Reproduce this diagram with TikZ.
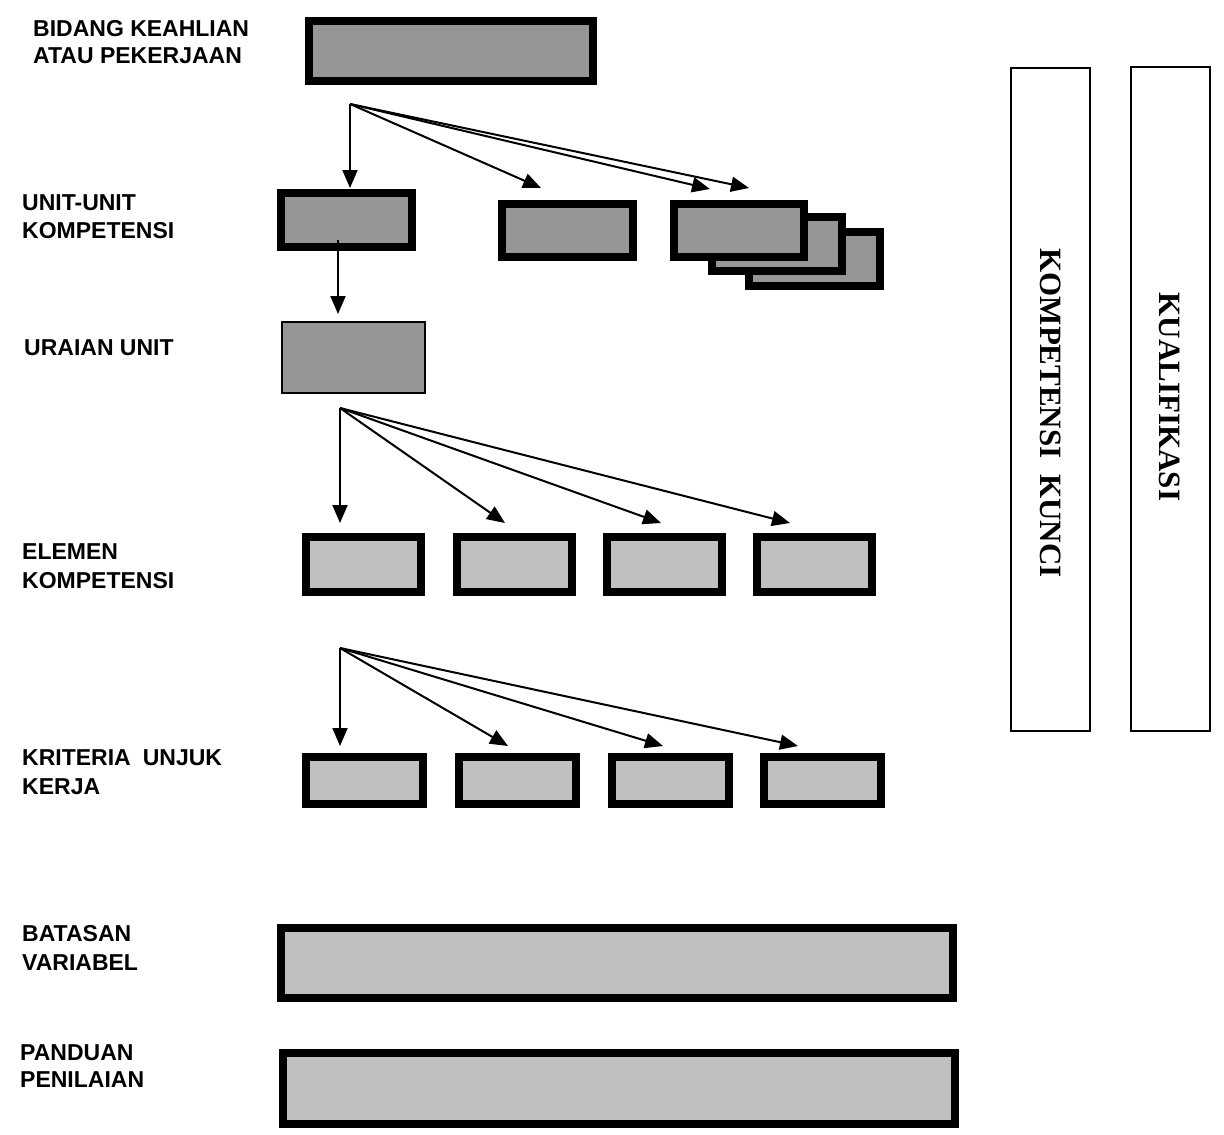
\documentclass[tikz,border=0pt]{standalone}
\usepackage{fontspec}
\setmainfont{Liberation Sans}
\newfontfamily\serifbold{Liberation Serif}
\usetikzlibrary{arrows.meta}
\definecolor{darkfill}{RGB}{150,150,150}
\definecolor{lightfill}{RGB}{192,192,192}
\begin{document}
\begin{tikzpicture}[x=1pt,y=-1pt,
  thickbox/.style={draw=black,line width=8pt,rectangle,inner sep=0pt},
  thinbox/.style={draw=black,line width=2pt,rectangle,inner sep=0pt},
  darkbox/.style={thickbox,fill=darkfill},
  lightbox/.style={thickbox,fill=lightfill},
  lbl/.style={anchor=base west,inner sep=0pt,font=\fontsize{23}{28}\selectfont\bfseries},
  vlbl/.style={rotate=-90,inner sep=0pt,font=\fontsize{31}{36}\selectfont\serifbold\bfseries},
  arr/.style={line width=2pt,-{Triangle[length=18pt,width=15pt]}}]
\useasboundingbox (0,0) rectangle (1224,1135);
\fill[white] (0,0) rectangle (1224,1135);

% left labels
\node[lbl] (l1a) at (33,36) {BIDANG KEAHLIAN};
\node[lbl] (l1b) at (33,63) {ATAU PEKERJAAN};
\node[lbl] (l2a) at (22,210) {UNIT-UNIT};
\node[lbl] (l2b) at (22,238) {KOMPETENSI};
\node[lbl] (l3a) at (24,355) {URAIAN UNIT};
\node[lbl] (l4a) at (22,559) {ELEMEN};
\node[lbl] (l4b) at (22,588) {KOMPETENSI};
\node[lbl] (l5a) at (22,765) {KRITERIA\hspace{12pt}UNJUK};
\node[lbl] (l5b) at (22,794) {KERJA};
\node[lbl] (l6a) at (22,941) {BATASAN};
\node[lbl] (l6b) at (22,970) {VARIABEL};
\node[lbl] (l7a) at (20,1060) {PANDUAN};
\node[lbl] (l7b) at (20,1087) {PENILAIAN};

% top box
\node[darkbox,minimum width=284pt,minimum height=60pt] (top) at (451,51) {};

% unit boxes
\node[darkbox,minimum width=131pt,minimum height=54pt] (u1) at (346.5,220) {};
\node[darkbox,minimum width=131pt,minimum height=53pt] (u2) at (567.5,230.5) {};
\node[darkbox,minimum width=131pt,minimum height=54pt] (u3c) at (814.5,259) {};
\node[darkbox,minimum width=130pt,minimum height=54pt] (u3b) at (777,244) {};
\node[darkbox,minimum width=130pt,minimum height=53pt] (u3a) at (739,230.5) {};

% uraian
\node[thinbox,fill=darkfill,minimum width=143pt,minimum height=71pt] (ur) at (353.5,357.5) {};

% elemen
\node[lightbox,minimum width=115pt,minimum height=55pt] (e1) at (363.5,564.5) {};
\node[lightbox,minimum width=115pt,minimum height=55pt] (e2) at (514.5,564.5) {};
\node[lightbox,minimum width=115pt,minimum height=55pt] (e3) at (664.5,564.5) {};
\node[lightbox,minimum width=115pt,minimum height=55pt] (e4) at (814.5,564.5) {};

% kriteria
\node[lightbox,minimum width=117pt,minimum height=47pt] (k1) at (364.5,780.5) {};
\node[lightbox,minimum width=117pt,minimum height=47pt] (k2) at (517.5,780.5) {};
\node[lightbox,minimum width=117pt,minimum height=47pt] (k3) at (670.5,780.5) {};
\node[lightbox,minimum width=117pt,minimum height=47pt] (k4) at (822.5,780.5) {};

% batasan, panduan
\node[lightbox,minimum width=672pt,minimum height=70pt] (bv) at (617,963) {};
\node[lightbox,minimum width=672pt,minimum height=71pt] (pp) at (619,1088.5) {};

% right tall boxes
\node[thinbox,minimum width=79pt,minimum height=663pt] (kk) at (1050.5,399.5) {};
\node[thinbox,minimum width=79pt,minimum height=664pt] (kq) at (1170.5,399) {};
\node[vlbl] (kkt) at (1051,413) {KOMPETENSI\ \ KUNCI};
\node[vlbl] (kqt) at (1170,397) {KUALIFIKASI};

% fan 1
\coordinate (f1) at (350,104);
\coordinate (f1a) at (350,188);
\coordinate (f1b) at (541,188);
\coordinate (f1c) at (710,189);
\coordinate (f1d) at (749,188);
\draw[arr] (f1) -- (f1a);
\draw[arr] (f1) -- (f1b);
\draw[arr] (f1) -- (f1c);
\draw[arr] (f1) -- (f1d);

% unit to uraian
\coordinate (d1) at (338,240);
\coordinate (d2) at (338,314);
\draw[arr] (d1) -- (d2);

% fan 2
\coordinate (f2) at (340,408);
\coordinate (f2a) at (340,523);
\coordinate (f2b) at (505,523);
\coordinate (f2c) at (661,523);
\coordinate (f2d) at (790,523);
\draw[arr] (f2) -- (f2a);
\draw[arr] (f2) -- (f2b);
\draw[arr] (f2) -- (f2c);
\draw[arr] (f2) -- (f2d);

% fan 3
\coordinate (f3) at (340,648);
\coordinate (f3a) at (340,746);
\coordinate (f3b) at (508,746);
\coordinate (f3c) at (663,746);
\coordinate (f3d) at (798,746);
\draw[arr] (f3) -- (f3a);
\draw[arr] (f3) -- (f3b);
\draw[arr] (f3) -- (f3c);
\draw[arr] (f3) -- (f3d);
\end{tikzpicture}
\end{document}
